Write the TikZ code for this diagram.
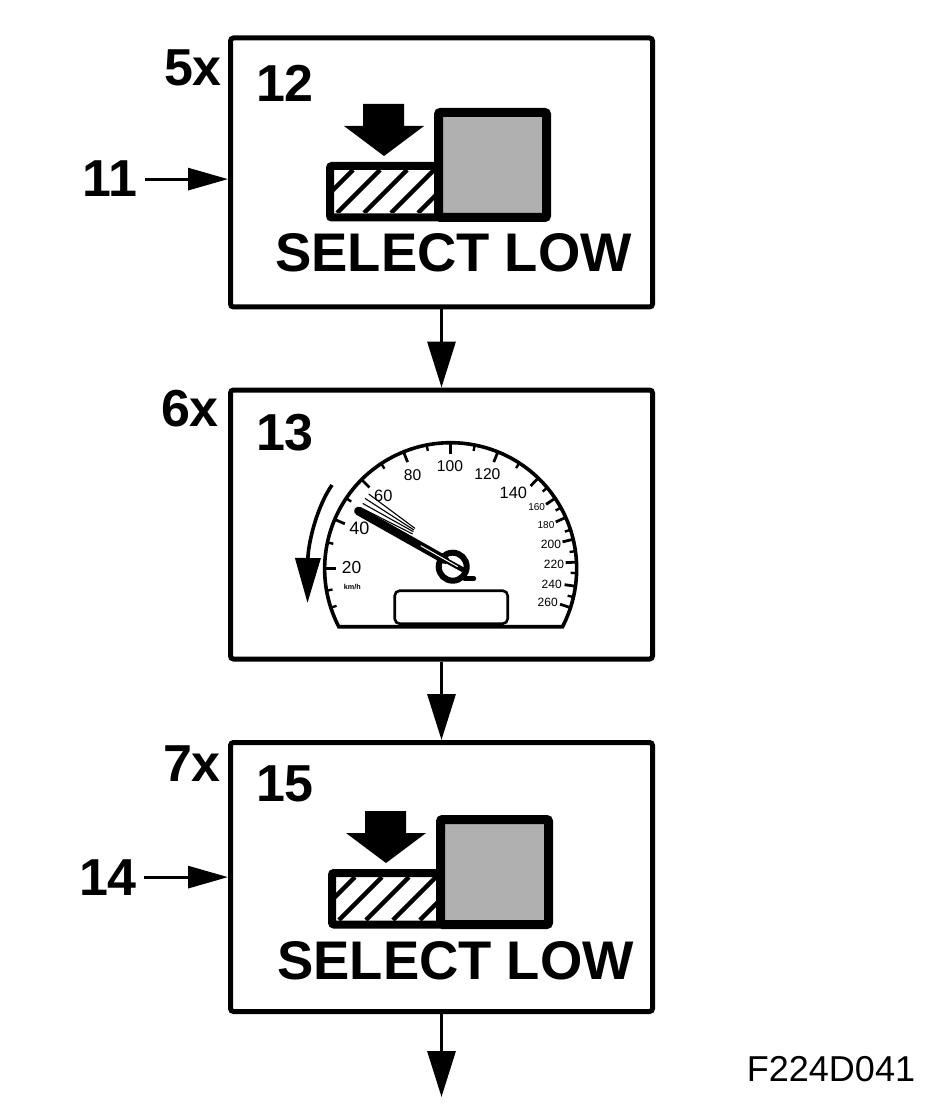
\documentclass[tikz,border=0pt]{standalone}
\usepackage{fontspec}
\setmainfont{Liberation Sans}
\usetikzlibrary{arrows.meta}

\tikzset{
  panel/.style={draw, line width=2.5pt, rounded corners=1.5pt, minimum width=211pt, minimum height=134.5pt, inner sep=0pt},
  bignum/.style={font=\fontsize{26}{26}\selectfont\bfseries, anchor=base, inner sep=0pt},
  lowtext/.style={font=\fontsize{27.2}{27.2}\selectfont\bfseries, anchor=base, inner sep=0pt},
  flow/.style={line width=1.6pt, -{Triangle[length=23pt,width=14pt]}},
  side/.style={line width=1.5pt, -{Triangle[length=20pt,width=11pt]}},
  dial/.style={inner sep=0pt, font=\fontsize{#1}{#1}\selectfont},
  icon/.style={line width=4.5pt, rounded corners=1pt}
}

% shift is the place of the icon against the first box
\newcommand{\lowicon}[2]{
  \begin{scope}[shift={(#1,#2)}]
    \fill (363,104) -- (404,104) -- (404,126) -- (424,126) -- (384,156) -- (344,126) -- (363,126) -- cycle;
    \draw[icon, line width=4pt] (330,166) rectangle (438.5,217.5);
    \begin{scope}
      \clip (333,170) rectangle (435,213);
      \foreach \h in {353,380,407,434,461}
        \draw[line width=2.2pt] (\h,170) -- (\h-43,213);
    \end{scope}
    \draw[icon, fill=gray!62] (438.5,112.5) rectangle (546.5,217.5);
  \end{scope}
}

\begin{document}
\begin{tikzpicture}[x=0.5pt, y=-0.5pt]
\useasboundingbox (0,0) rectangle (928,1112);

% boxes
\node[panel] (box1) at (441.5,172.5) {};
\node[panel] (box2) at (441.5,524.5) {};
\node[panel] (box3) at (441.5,877) {};
\coordinate (out) at (441.5,1097);

\draw[flow] (box1) -- (box2);
\draw[flow] (box2) -- (box3);
\draw[flow] (box3) -- (out);

% numbers
\node[bignum] (n5x) at (193,86) {5x};
\node[bignum] (n6x) at (190,426) {6x};
\node[bignum] (n7x) at (192,781) {7x};
\node[bignum] (n12) at (285,102) {12};
\node[bignum] (n13) at (285,450) {13};
\node[bignum] (n15) at (285,801) {15};
\node[bignum, inner xsep=3.5pt] (n11) at (110,197) {11};
\node[bignum, inner xsep=3.5pt] (n14) at (108,895) {14};
\draw[side] (n11.east) -- (n11.east -| box1.west);
\draw[side] (n14.east) -- (n14.east -| box3.west);

% first and last icon
\lowicon{0}{0}
\lowicon{2}{707}
\node[lowtext] (low1) at (453.5,272) {SELECT LOW};
\node[lowtext] (low3) at (455.5,979) {SELECT LOW};

% gauge
\begin{scope}[shift={(450.7,568.7)}, y=0.5pt]
  \draw[line width=1.8pt] (-111.9,-58) arc[start angle=207.4, end angle=-27.4, radius=126] -- cycle;
  \foreach \a in {180,157,135,112,90,68,46,34,24,13.5,3,-8,-18}
    \draw[line width=1.4pt] (\a:126) -- (\a:115);
  \foreach \a in {198,190,168,146,123.5,101,79,57,40,29,18,8,-2,-13}
    \draw[line width=1.2pt] (\a:126) -- (\a:120);
  \draw[fill=white, line width=1.3pt, rounded corners=2.5pt] (-56,-55) rectangle (57,-22);
  % needle
  \foreach \f/\g/\p/\q in {-82/74.7/-35.7/40.3, -85.7/70.3/-36.7/38.7, -88/65.3/-37.3/37, -90.7/61.3/-38/34.7}
    \draw[line width=0.55pt] (\f,\g) -- (\p,\q);
  \draw[line width=2.5pt, line cap=round] (14,-10) -- (23,-10);
  \draw[line width=3pt] (2,2) circle[radius=14];
  \draw[line width=4.3pt, line cap=round] (-92.3,57.7) -- (-6,9);
  \draw[line width=2.5pt] (-6,9) -- (12.7,-1.3);
  \draw[white, line width=0.5pt] (-30,23) -- (7,2);
\end{scope}

% dial numbers
\foreach \u/\v/\t/\s in {540/108/100/7.8, 428/135/80/7.8, 652/133/120/7.8, 730/190/140/8.2, 340/197/60/8.2, 268/295/40/9, 245/412/20/8.7, 800/232/160/5, 828/285/180/5, 843/342/200/6, 852/402/220/6, 845/462/240/6, 833/518/260/6}
  \node[dial=\s] (d\t) at (270+\u/3,430+\v/3) {\t};
\node[dial=3.6] (kmh) at (352.3,587.3) {\textbf{km/h}};

% turning arrow
\draw[line width=1.8pt, -{Triangle[length=22.5pt,width=12.5pt]}] (332,485) .. controls (316,508) and (308,545) .. (307.5,603);

\node[inner sep=0pt, anchor=base, font=\fontsize{18}{18}\selectfont] (code) at (831,1081) {F224D041};
\end{tikzpicture}
\end{document}
